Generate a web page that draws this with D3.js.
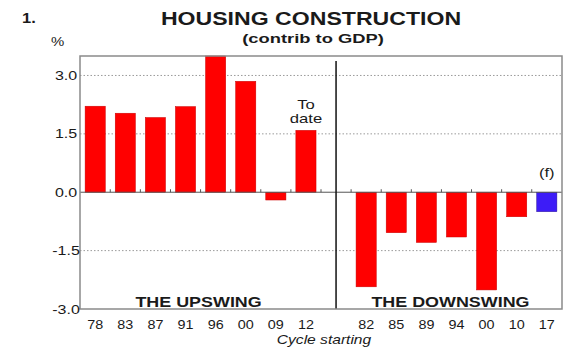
<!DOCTYPE html>
<html>
<head>
<meta charset="utf-8">
<script src="https://cdn.jsdelivr.net/npm/d3@7"></script>
<style>
  body { margin: 0; background: #fff; }
  text { font-family: "Liberation Sans", Arial, sans-serif; fill: #1a1a1a; }
</style>
</head>
<body>
<div id="chart"></div>
<script>
// Data
const upLabels = ["78", "83", "87", "91", "96", "00", "09", "12"];
const upValues = [2.21, 2.03, 1.92, 2.2, 3.5, 2.85, -0.2, 1.59];
const downLabels = ["82", "85", "89", "94", "00", "10", "17"];
const downValues = [-2.43, -1.04, -1.29, -1.15, -2.51, -0.63, -0.5];
const forecastLabel = "17";
const yTicks = [-3.0, -1.5, 0.0, 1.5, 3.0];
const gridTicks = [-1.5, 1.5, 3.0];

const width = 580;
const height = 352;
const margin = {top: 56, right: 18, bottom: 43, left: 80};
const SX = 1.28; // the picture is stretched sideways

// one list of bars, with an empty slot between the two halves
const bars = [];
upLabels.forEach(function(l, i) {
  bars.push({key: "u" + l, label: l, value: upValues[i], side: "up"});
});
const gapKey = "gap";
downLabels.forEach(function(l, i) {
  bars.push({key: "d" + l, label: l, value: downValues[i], side: "down"});
});
const domain = bars.slice(0, upLabels.length).map(d => d.key)
  .concat([gapKey])
  .concat(bars.slice(upLabels.length).map(d => d.key));

const svg = d3.select("#chart")
  .append("svg")
  .attr("width", width)
  .attr("height", height);

const x = d3.scaleBand()
  .domain(domain)
  .range([margin.left, width - margin.right])
  .paddingInner(0.33)
  .paddingOuter(0.17);

const y = d3.scaleLinear()
  .domain([-3, 3.5])
  .range([height - margin.bottom, margin.top]);

// Text helper: draws stretched text like in the picture
function label(txt, px, py, size, opts) {
  opts = opts || {};
  return svg.append("text")
    .attr("transform", "translate(" + px + "," + py + ") scale(" + (opts.sx || SX) + ",1)")
    .attr("text-anchor", opts.anchor || "middle")
    .style("font-size", size + "px")
    .style("font-weight", opts.weight || "normal")
    .style("font-style", opts.style || "normal")
    .text(txt);
}

// Gridlines
svg.append("g")
  .selectAll("line")
  .data(gridTicks)
  .enter()
  .append("line")
  .attr("x1", margin.left)
  .attr("x2", width - margin.right)
  .attr("y1", d => y(d))
  .attr("y2", d => y(d))
  .attr("stroke", "#9a9a9a")
  .attr("stroke-width", 1)
  .attr("stroke-dasharray", "1.5,2");

// Bars
svg.append("g")
  .selectAll("rect")
  .data(bars)
  .enter()
  .append("rect")
  .attr("x", d => x(d.key))
  .attr("width", x.bandwidth())
  .attr("y", d => y(Math.max(0, d.value)))
  .attr("height", d => Math.abs(y(d.value) - y(0)))
  .attr("fill", d => (d.side === "down" && d.label === forecastLabel) ? "#3d1cf7" : "#ff0000")
  .attr("stroke", d => (d.side === "down" && d.label === forecastLabel) ? "#2a1299" : "#c80000")
  .attr("stroke-width", 0.5);

// Zero line with small ticks at slot boundaries
svg.append("line")
  .attr("x1", margin.left)
  .attr("x2", width - margin.right)
  .attr("y1", y(0))
  .attr("y2", y(0))
  .attr("stroke", "#555")
  .attr("stroke-width", 1);

const half = (x.step() - x.bandwidth()) / 2;
svg.append("g")
  .selectAll("line")
  .data(domain.slice(1))
  .enter()
  .append("line")
  .attr("x1", d => x(d) - half)
  .attr("x2", d => x(d) - half)
  .attr("y1", y(0))
  .attr("y2", y(0) - 3)
  .attr("stroke", "#555")
  .attr("stroke-width", 1);

// Divider between upswing and downswing
svg.append("line")
  .attr("x1", x(gapKey) + x.bandwidth() / 2)
  .attr("x2", x(gapKey) + x.bandwidth() / 2)
  .attr("y1", margin.top + 5)
  .attr("y2", height - margin.bottom)
  .attr("stroke", "#111")
  .attr("stroke-width", 1.5);

// Frame
svg.append("rect")
  .attr("x", margin.left)
  .attr("y", margin.top)
  .attr("width", width - margin.left - margin.right)
  .attr("height", height - margin.top - margin.bottom)
  .attr("fill", "none")
  .attr("stroke", "#8a8a8a")
  .attr("stroke-width", 1.5);

// Y axis
const yAxis = d3.axisLeft(y)
  .tickValues(yTicks)
  .tickFormat(d => d.toFixed(1))
  .tickSize(0)
  .tickPadding(14);

svg.append("g")
  .attr("transform", "translate(" + margin.left + ",0)")
  .call(yAxis)
  .call(g => g.select(".domain").remove())
  .selectAll("text")
  .attr("x", -14 / SX)
  .attr("transform", "scale(" + SX + ",1)")
  .style("font-size", "12.5px")
  .style("font-family", "'Liberation Sans', Arial, sans-serif")
  .attr("fill", "#1a1a1a");

// X axis
const labelByKey = {};
bars.forEach(d => { labelByKey[d.key] = d.label; });
const xAxis = d3.axisBottom(x)
  .tickValues(bars.map(d => d.key))
  .tickFormat(d => labelByKey[d])
  .tickSize(0)
  .tickPadding(11);

svg.append("g")
  .attr("transform", "translate(0," + (height - margin.bottom) + ")")
  .call(xAxis)
  .call(g => g.select(".domain").remove())
  .selectAll(".tick text")
  .attr("transform", "scale(1.15,1)")
  .attr("x", 0)
  .style("font-size", "12.5px")
  .style("font-family", "'Liberation Sans', Arial, sans-serif")
  .attr("fill", "#1a1a1a");
// keep tick groups centred after scaling the text
svg.selectAll(".tick text").each(function() {
  d3.select(this).attr("text-anchor", "middle");
});

// Titles and notes
label("1.", 22, 23, 15, {anchor: "start", weight: "bold", sx: 1.1});
label("%", 51, 46, 13, {anchor: "start", sx: 1.15});
label("HOUSING CONSTRUCTION", 311, 25, 17.5, {weight: "bold", sx: 1.32});
label("(contrib to GDP)", 313, 43, 13.5, {weight: "bold", sx: 1.36});

const lastUp = bars[upLabels.length - 1];
label("To", x(lastUp.key) + x.bandwidth() / 2, 109, 13);
label("date", x(lastUp.key) + x.bandwidth() / 2, 123, 13);
label("(f)", x("d" + forecastLabel) + x.bandwidth() / 2, 177, 13);

const upMid = (x(bars[0].key) + x(lastUp.key) + x.bandwidth()) / 2;
const lastDown = bars[bars.length - 1];
const downMid = (x(bars[upLabels.length].key) + x(lastDown.key) + x.bandwidth()) / 2;
label("THE UPSWING", upMid - 2, 306.5, 14, {weight: "bold"});
label("THE DOWNSWING", downMid - 6, 306.5, 14, {weight: "bold"});

label("Cycle starting", 324, 344, 12, {style: "italic", sx: 1.3});
</script>
</body>
</html>
